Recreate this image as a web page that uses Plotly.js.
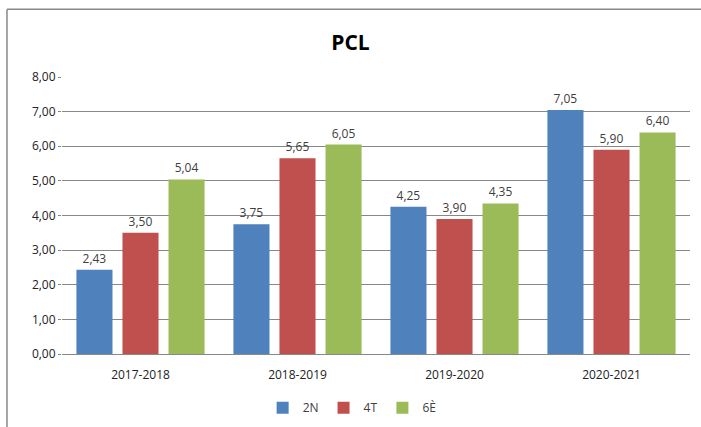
<!DOCTYPE html>
<html><head><meta charset="utf-8">
<script src="https://cdn.plot.ly/plotly-3.0.1.min.js"></script>
<style>html,body{margin:0;padding:0;background:#fff}#c{width:701px;height:427px}</style>
</head><body><div id="c"></div>
<script>
const categories = ["2017-2018", "2018-2019", "2019-2020", "2020-2021"];
const series2N = [2.43, 3.75, 4.25, 7.05];
const series4T = [3.50, 5.65, 3.90, 5.90];
const series6E = [5.04, 6.05, 4.35, 6.40];
const seriesNames = ["2N", "4T", "6È"];
const yTicks = [0, 1, 2, 3, 4, 5, 6, 7, 8];

const colors = ["#4F81BD", "#C0504D", "#9BBB59"];
const font = "Open Sans, Noto Sans, sans-serif";
const traces = [series2N, series4T, series6E].map((v, i) => ({
  type: "bar", x: categories, y: v, name: seriesNames[i],
  marker: {color: colors[i]},
  text: v, texttemplate: "%{y:.2f}", textposition: "outside",
  cliponaxis: false,
  textfont: {family: font, size: 12, color: "#404040"},
  hoverinfo: "skip"
}));

const layout = {
  width: 701, height: 427,
  margin: {l: 62, r: 11, t: 77, b: 73, autoexpand: false},
  paper_bgcolor: "#fff", plot_bgcolor: "#fff",
  separators: ", ",
  title: {text: "<b>PCL</b>", x: 0.5, xanchor: "center", yref: "container", y: 0.9, yanchor: "middle",
          font: {family: font, size: 21, color: "#000"}},
  bargap: 0.12, bargroupgap: 0.217,
  showlegend: true,
  legend: {orientation: "h", x: 0.462, xanchor: "center", yref: "container", y: 0.045, yanchor: "middle",
           font: {family: font, size: 12, color: "#404040"}, itemwidth: 30, traceorder: "normal"},
  xaxis: {type: "category", showgrid: false, showline: true, linecolor: "#888", linewidth: 1,
          ticks: "", ticklabelstandoff: 10, tickfont: {family: font, size: 12, color: "#222"}, fixedrange: true},
  yaxis: {range: [0, 8], tickvals: yTicks, tickformat: ".2f", showgrid: true, gridcolor: "#888", gridwidth: 1,
          zeroline: false, showline: false, ticks: "outside", ticklen: 3, tickcolor: "#888",
          tickfont: {family: font, size: 12, color: "#222"}, fixedrange: true},
  shapes: [
    {type: "line", xref: "paper", yref: "paper", x0: -0.0876, x1: 1.1, y0: 1.245, y1: 1.245, line: {color: "#888", width: 1.5}},
    {type: "line", xref: "paper", yref: "paper", x0: -0.0876, x1: -0.0876, y0: 1.245, y1: -0.3, line: {color: "#888", width: 1.5}}
  ]
};
Plotly.newPlot("c", traces, layout, {displayModeBar: false, staticPlot: true});
</script></body></html>
